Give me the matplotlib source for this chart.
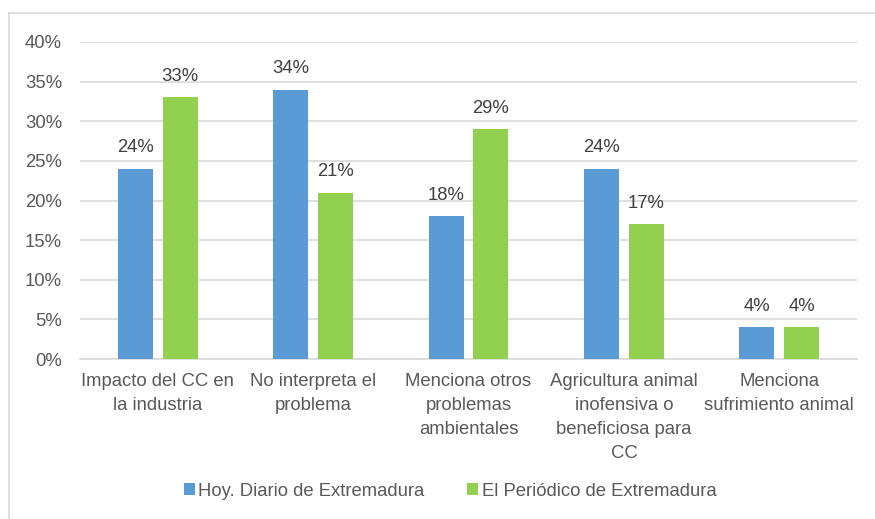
import numpy as np
import matplotlib.pyplot as plt
from matplotlib.lines import Line2D

plt.rcParams['font.family'] = ['Liberation Sans', 'DejaVu Sans']

categorias = ["Impacto del CC en\nla industria",
              "No interpreta el\nproblema",
              "Menciona otros\nproblemas\nambientales",
              "Agricultura animal\ninofensiva o\nbeneficiosa para\nCC",
              "Menciona\nsufrimiento animal"]
hoy = [24, 34, 18, 24, 4]
periodico = [33, 21, 29, 17, 4]
series = ["Hoy. Diario de Extremadura", "El Periódico de Extremadura"]
colores = ["#5B9BD5", "#92D050"]

fs = 13.3
fig = plt.figure(figsize=(8.75, 5.19), dpi=100)
ax = fig.add_axes([80/875, 1 - 359/519, 777/875, 317/519])

x = np.arange(len(categorias))
w = 0.225
off = 0.144
for vals, col, lab, d in zip([hoy, periodico], colores, series, [-off, off]):
    bars = ax.bar(x + d, np.array(vals) / 100, width=w, color=col, label=lab, zorder=3)
    for b, v in zip(bars, vals):
        ax.annotate("{}%".format(v), (b.get_x() + b.get_width()/2, b.get_height()),
                    xytext=(0, 9), textcoords="offset points", ha="center", va="bottom",
                    fontsize=fs, color="#404040")

ax.set_xlim(-0.5, 4.5)
ax.set_ylim(0, 0.40)
ax.set_yticks(np.arange(0, 0.41, 0.05))
ax.set_yticklabels(["{}%".format(int(round(v*100))) for v in np.arange(0, 0.41, 0.05)])
ax.set_xticks(x)
ax.set_xticklabels(categorias, linespacing=1.55)
ax.tick_params(axis="both", length=0, labelsize=fs, colors="#595959")
ax.tick_params(axis="x", pad=10)
ax.tick_params(axis="y", pad=13)
ax.grid(axis="y", color="#D9D9D9", linewidth=1.2, zorder=0)
for s in ["top", "right", "left"]:
    ax.spines[s].set_visible(False)
ax.spines["bottom"].set_color("#D9D9D9")
ax.spines["bottom"].set_linewidth(1.2)

fig.legend(loc="center", bbox_to_anchor=(450/875, 1 - 491/519), ncol=2, frameon=False,
           fontsize=fs, labelcolor="#595959", handlelength=0.6, handleheight=0.6,
           handletextpad=0.2, columnspacing=2.3)

# marco del grafico
fig.add_artist(Line2D([9/875, 1], [1 - 12.5/519] * 2, color="#D9D9D9", lw=1.2))
fig.add_artist(Line2D([9/875] * 2, [0, 1 - 12.5/519], color="#D9D9D9", lw=1.2))

fig.savefig("out.png", dpi=100)
